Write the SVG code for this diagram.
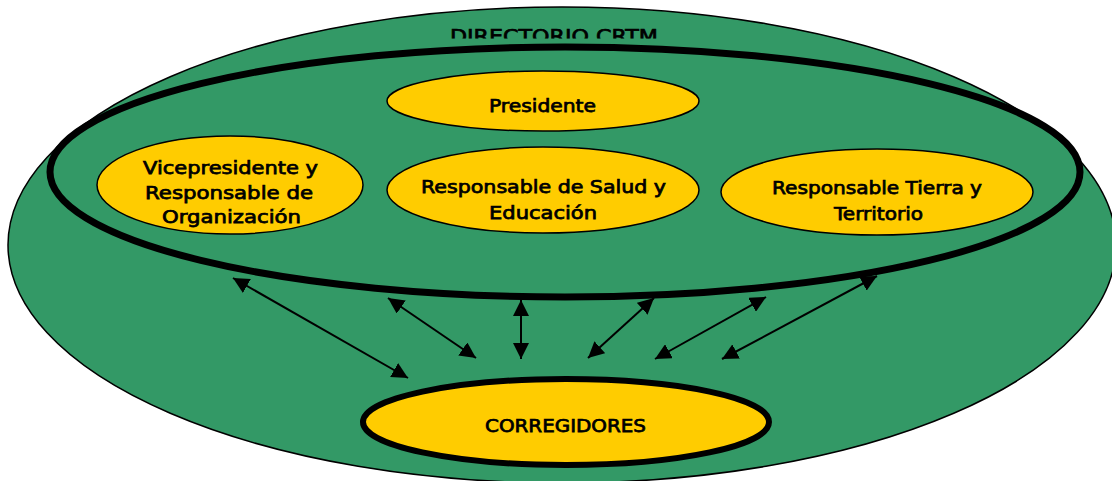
<svg xmlns="http://www.w3.org/2000/svg" width="1112" height="481" viewBox="0 0 1112 481">
<style>
.lbl{font-family:"DejaVu Sans","Liberation Sans",Arial,sans-serif;font-size:18px;fill:#000;stroke:#000;stroke-width:0.75;text-anchor:middle}
.yel{fill:#FFCC00;stroke:#000;stroke-width:1.5}
.con{stroke:#000;stroke-width:2;fill:none;marker-start:url(#ah);marker-end:url(#ah)}
</style>
<defs>
<marker id="ah" viewBox="0 0 10 10" refX="10" refY="5" markerWidth="8" markerHeight="8" orient="auto-start-reverse" markerUnits="strokeWidth">
<path d="M0,0 L10,5 L0,10 z" fill="#000"/>
</marker>
<clipPath id="tc"><rect x="0" y="0" width="1112" height="38.5"/></clipPath>
</defs>
<rect width="1112" height="481" fill="#fff"/>
<g id="directorio">
<ellipse cx="562" cy="245" rx="554" ry="238" fill="#339966" stroke="#000" stroke-width="1.5"/>
<text class="lbl" x="554" y="43" clip-path="url(#tc)" style="font-size:20px" textLength="208" lengthAdjust="spacingAndGlyphs">DIRECTORIO CRTM</text>
<ellipse cx="565" cy="172" rx="515" ry="125" fill="none" stroke="#000" stroke-width="7"/>
</g>
<g id="presidente">
<ellipse class="yel" cx="543" cy="101" rx="156" ry="30"/>
<text class="lbl" x="542.5" y="112" textLength="107" lengthAdjust="spacingAndGlyphs">Presidente</text>
</g>
<g id="vicepresidente">
<ellipse class="yel" cx="230" cy="185" rx="133" ry="49"/>
<text class="lbl" x="230.5" y="174" textLength="175" lengthAdjust="spacingAndGlyphs">Vicepresidente y</text>
<text class="lbl" x="229" y="199" textLength="168" lengthAdjust="spacingAndGlyphs">Responsable de</text>
<text class="lbl" x="231.5" y="223" textLength="139" lengthAdjust="spacingAndGlyphs">Organización</text>
</g>
<g id="salud">
<ellipse class="yel" cx="543" cy="190" rx="156" ry="43"/>
<text class="lbl" x="543.5" y="193" textLength="245" lengthAdjust="spacingAndGlyphs">Responsable de Salud y</text>
<text class="lbl" x="543" y="219" textLength="108" lengthAdjust="spacingAndGlyphs">Educación</text>
</g>
<g id="tierra">
<ellipse class="yel" cx="877" cy="192" rx="156" ry="43"/>
<text class="lbl" x="877" y="194" textLength="210" lengthAdjust="spacingAndGlyphs">Responsable Tierra y</text>
<text class="lbl" x="878.5" y="220" textLength="89" lengthAdjust="spacingAndGlyphs">Territorio</text>
</g>
<g id="corregidores">
<ellipse cx="566" cy="422" rx="203" ry="43" fill="#FFCC00" stroke="#000" stroke-width="6"/>
<text class="lbl" x="565.5" y="432" textLength="161" lengthAdjust="spacingAndGlyphs">CORREGIDORES</text>
</g>
<g id="connectors">
<line class="con" x1="233" y1="278" x2="408" y2="378"/>
<line class="con" x1="388" y1="298" x2="476" y2="358"/>
<line class="con" x1="521" y1="300" x2="521" y2="359"/>
<line class="con" x1="654" y1="298" x2="588" y2="358"/>
<line class="con" x1="766" y1="297" x2="655" y2="359"/>
<line class="con" x1="877" y1="276" x2="722" y2="359"/>
</g>
</svg>
